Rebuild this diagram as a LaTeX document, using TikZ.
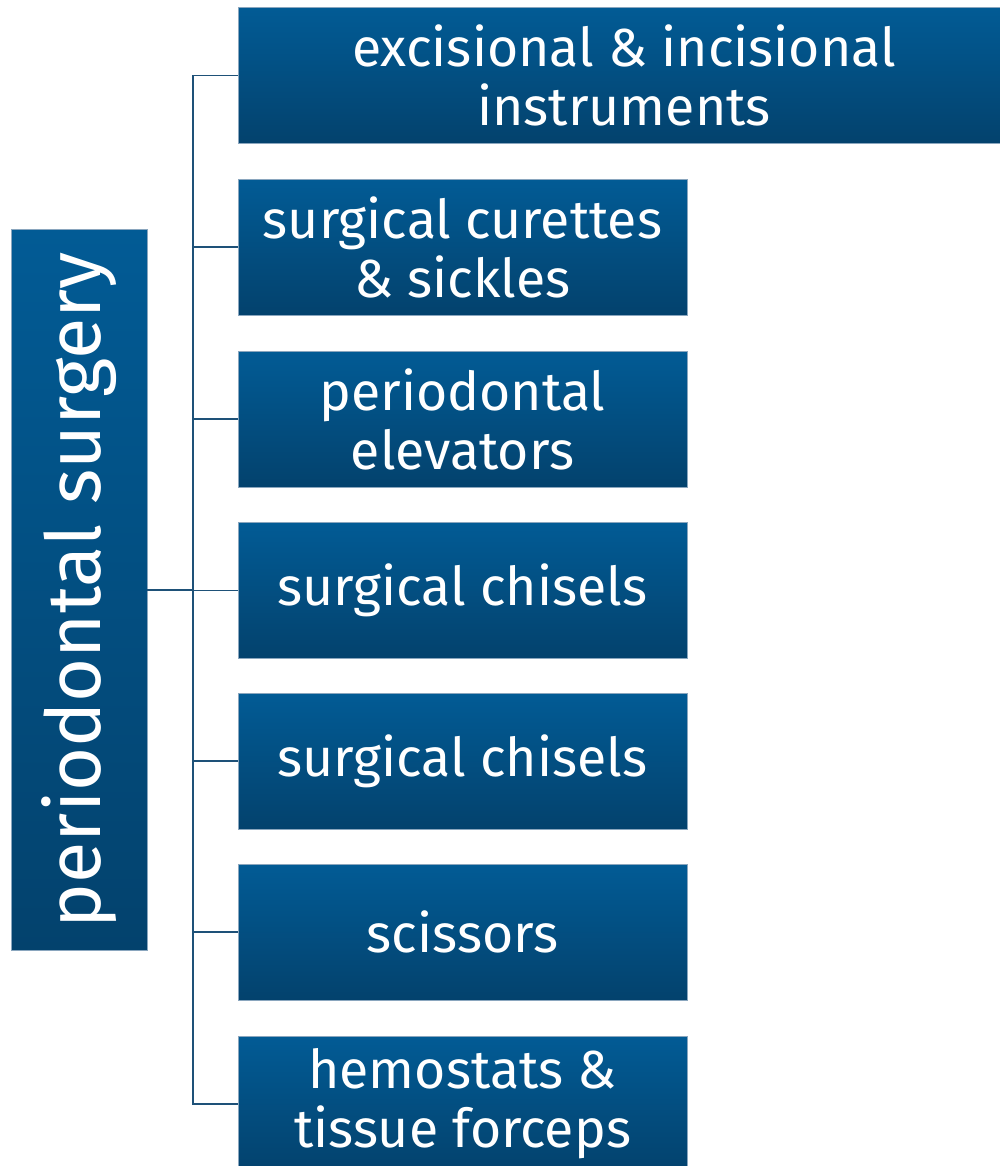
\documentclass[tikz,border=0pt]{standalone}
\usepackage{fontspec}
\setmainfont{Fira Sans}
\definecolor{boxtop}{HTML}{025B95}
\definecolor{boxbot}{HTML}{03426D}
\definecolor{boxedge}{HTML}{8AA6BE}
\definecolor{linkc}{HTML}{1E5178}
\tikzset{
  px/.style={x=0.02cm,y=-0.02cm},
  catbox/.style={rectangle, draw=boxedge, line width=0.5pt, top color=boxtop, bottom color=boxbot,
     text=white, align=center, font=\fontsize{30.5}{33.5}\selectfont, inner sep=0pt,
     minimum width=8.98cm, minimum height=2.72cm},
  rootbox/.style={rectangle, draw=boxedge, line width=0.5pt, top color=boxtop, bottom color=boxbot,
     text=white, align=center, font=\fontsize{43}{48}\selectfont, inner sep=0pt,
     minimum width=2.72cm, minimum height=14.42cm},
  link/.style={draw=linkc, line width=1.1pt}
}
\begin{document}
\begin{tikzpicture}[px]
\useasboundingbox (0,0) rectangle (1000,1166);
\clip (0,0) rectangle (1000,1166);
\node[rootbox] (root) at (79,590) {\rotatebox{90}{periodontal surgery}};
\node[catbox, minimum width=15.44cm] (c1) at (624,75.5) {excisional \& incisional\\instruments};
\node[catbox] (c2) at (462.5,247) {surgical curettes\\\& sickles};
\node[catbox] (c3) at (462.5,419) {periodontal\\elevators};
\node[catbox] (c4) at (462.5,590.5) {surgical chisels};
\node[catbox] (c5) at (462.5,761) {surgical chisels};
\node[catbox] (c6) at (462.5,932) {scissors};
\node[catbox] (c7) at (462.5,1104) {hemostats \&\\tissue forceps};
\coordinate (trunk) at (193,590);
\draw[link] (root.east) -- (trunk);
\foreach \c in {c1,c2,c3,c4,c5,c6,c7}{
  \draw[link] (trunk) |- (\c.west);
}
\end{tikzpicture}
\end{document}
